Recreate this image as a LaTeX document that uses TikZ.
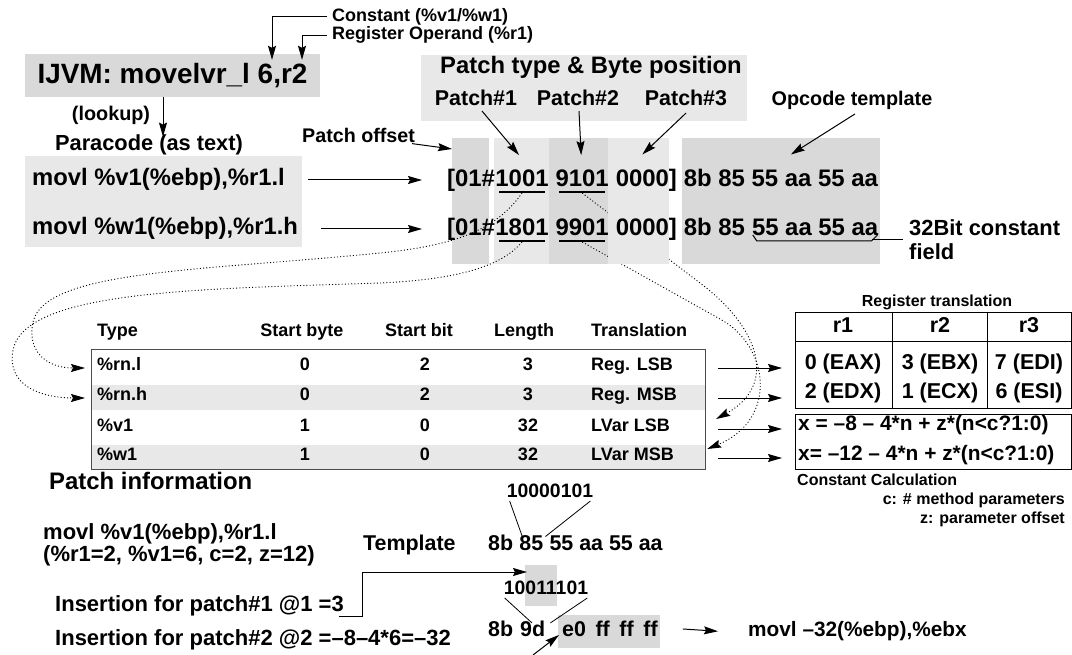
\documentclass[tikz,border=0pt]{standalone}
\usepackage{fontspec}
\setmainfont{Liberation Sans}
\usetikzlibrary{arrows.meta,calc}
\definecolor{shadeA}{HTML}{D9D9D9}
\definecolor{shadeB}{HTML}{E8E8E8}
\newcommand{\fsz}[1]{\fontsize{#1}{#1}\selectfont\bfseries}
\newcommand{\gapw}{6.6}
\tikzset{
  every node/.style={inner sep=0pt},
  arr/.style={line width=1pt,-{Stealth[length=14pt,width=8pt,inset=2pt]}},
  dotline/.style={line width=0.9pt,dash pattern=on 1pt off 2.2pt},
  darr/.style={dotline,-{Stealth[length=14pt,width=8pt,inset=2pt]}},
  uline/.style={line width=1.8pt},
  hexrow/.style={font=\fsz{23.9},anchor=base west},
  tcell/.style={font=\fsz{18}},
  rcell/.style={font=\fsz{21.5},anchor=mid},
  frame/.style={draw,line width=1pt,anchor=north west},
}
\begin{document}
\begin{tikzpicture}[x=1pt,y=-1pt]
\useasboundingbox (0,0) rectangle (1072,655);

% ---------- instruction and operand labels
\node[fill=shadeA,minimum width=295pt,minimum height=43pt,font=\fsz{27.9}] (ijvm) at (172.5,75.5) {IJVM: movelvr\_l 6,r2};
\node[font=\fsz{18},anchor=mid west] (cst) at (332,19) {Constant (\%v1/\%w1)};
\node[font=\fsz{18},anchor=mid west] (reg) at (332,37) {Register Operand (\%r1)};
\draw[arr] ($(cst.west)+(-5,0)$) -| ($(ijvm.north)+(99.5,6)$);
\draw[arr] ($(reg.west)+(-5,0)$) -| ($(ijvm.north)+(129.5,6)$);

% ---------- paracode
\node[font=\fsz{19.8}] (lookup) at (111,115) {(lookup)};
\node[font=\fsz{21.8}] (para) at (149,145) {Paracode (as text)};
\fill[shadeB] (25,156) rectangle (302,247);
\node[font=\fsz{23.8},anchor=base west] (p1) at (32,186) {movl \%v1(\%ebp),\%r1.l};
\node[font=\fsz{23.8},anchor=base west] (p2) at (32,235) {movl \%w1(\%ebp),\%r1.h};
\draw[arr] ($(ijvm.south)+(-9.5,0)$) -- ($(para.north)+(14,2)$);

% ---------- patch information table
\fill[shadeB] (91,385) rectangle (705,410);
\fill[shadeB] (91,445) rectangle (705,469);
\node[draw=black!70,line width=1.2pt,minimum width=614pt,minimum height=120pt,anchor=north west] (tbl) at (91,349) {};
\node[tcell,anchor=mid west] (hType) at (97,334) {Type};
\node[tcell,anchor=mid] (hSbyte) at (302,334) {Start byte};
\node[tcell,anchor=mid] (hSbit) at (419,334) {Start bit};
\node[tcell,anchor=mid] (hLen) at (524,334) {Length};
\node[tcell,anchor=mid west] (hTr) at (591,334) {Translation};
\foreach \i/\yy/\vty/\vsb/\vsbt/\vlen/\vtr in {1/368/{\%rn.l}/0/2/3/{Reg. LSB},2/398/{\%rn.h}/0/2/3/{Reg. MSB},3/429/{\%v1}/1/0/32/{LVar LSB},4/458/{\%w1}/1/0/32/{LVar MSB}}{
  \node[tcell,anchor=mid west] (ty\i) at (97,\yy) {\vty};
  \node[tcell,anchor=mid] (sb\i) at (305,\yy) {\vsb};
  \node[tcell,anchor=mid] (sbt\i) at (425,\yy) {\vsbt};
  \node[tcell,anchor=mid] (len\i) at (528,\yy) {\vlen};
  \node[tcell,anchor=mid west] (tr\i) at (591,\yy) {\vtr};
}
\node[font=\fsz{23.9},anchor=mid west] (pinfo) at (49,487) {Patch information};

% ---------- register translation and constant calculation
\node[font=\fsz{16},anchor=mid] (rtitle) at (937,304) {Register translation};
\node[frame,minimum width=276pt,minimum height=96pt] (regt) at (795,312) {};
\draw[line width=1pt] ($(regt.north west)+(0,30)$) -- ($(regt.north east)+(0,30)$);
\draw[line width=1pt] ($(regt.north west)+(97,0)$) -- ($(regt.south west)+(97,0)$);
\draw[line width=1pt] ($(regt.north west)+(192,0)$) -- ($(regt.south west)+(192,0)$);
\node[rcell] (rh1) at (843,330) {r1};
\node[rcell] (rh2) at (940,330) {r2};
\node[rcell] (rh3) at (1029,330) {r3};
\node[rcell] (ra1) at (843,367) {0 (EAX)};
\node[rcell] (ra2) at (940,367) {3 (EBX)};
\node[rcell] (ra3) at (1029,367) {7 (EDI)};
\node[rcell] (rb1) at (843,396) {2 (EDX)};
\node[rcell] (rb2) at (940,396) {1 (ECX)};
\node[rcell] (rb3) at (1029,396) {6 (ESI)};
\node[frame,minimum width=276pt,minimum height=55pt] (cbox) at (795,414) {};
\node[font=\fsz{20.9},anchor=mid west] (cf1) at (798,428) {x = –8 – 4*n + z*(n<c?1:0)};
\node[font=\fsz{20.9},anchor=mid west] (cf2) at (798,458) {x= –12 – 4*n + z*(n<c?1:0)};
\node[font=\fsz{16},anchor=mid west] (ccalc) at (797,483) {Constant Calculation};
\node[font=\fsz{16},anchor=mid east] (cpar) at (1065,502) {c: \# method parameters};
\node[font=\fsz{16},anchor=mid east] (zpar) at (1065,521) {z: parameter offset};
\foreach \i in {1,...,4}
  \draw[arr] ($(tbl.east |- ty\i.mid)+(12,0)$) -- ($(regt.west |- ty\i.mid)+(-13,0)$);

% ---------- patch descriptor and opcode template
\fill[shadeB] (421,55) rectangle (747,121);
\node[font=\fsz{23.8},anchor=mid] (hdr) at (591,71) {Patch type \& Byte position};
\node[font=\fsz{21.4},anchor=mid] (pt1) at (476,103) {Patch\#1};
\node[font=\fsz{21.4},anchor=mid] (pt2) at (578,103) {Patch\#2};
\node[font=\fsz{21.4},anchor=mid] (pt3) at (686,103) {Patch\#3};
\node[font=\fsz{19.8},anchor=mid] (opt) at (852,103) {Opcode template};
\node[font=\fsz{19.7},anchor=mid west] (poff) at (302,140) {Patch offset};
\coordinate (offtip) at (452,149);

\fill[shadeA] (452,138) rectangle (489,264);
\fill[shadeB] (494,138) rectangle (549,264);
\fill[shadeA] (549,138) rectangle (608,264);
\fill[shadeA] (682,138) rectangle (880,264);

\node[hexrow] (r1a) at (447,187) {[01\#};
\node[hexrow] (r1b) at (r1a.base east) {1001};
\node[hexrow] (r1c) at ($(r1b.base east)+(\gapw,0)$) {9101};
\node[hexrow] (r2a) at (447,236) {[01\#};
\node[hexrow] (r2b) at (r2a.base east) {1801};
\node[hexrow] (r2c) at ($(r2b.base east)+(\gapw,0)$) {9901};
\foreach \n in {r1b,r1c,r2b,r2c}
  \draw[uline] ($(\n.base west)+(4,5)$) -- ($(\n.base east)+(-4,5)$);

% patch fields pointing into the table
\draw[darr] ($(r1b.base)+(0,6)$) .. controls (495,232) and (450,246) .. (380,253)
  .. controls (200,271) and (45,270) .. (33,322)
  .. controls (27,350) and (45,368) .. ($(ty1.mid west)+(-12,0)$);
\draw[darr] ($(r2b.base)+(0,6)$) .. controls (505,262) and (470,279) .. (380,283)
  .. controls (200,289) and (25,290) .. (13,350)
  .. controls (6,388) and (45,398) .. ($(ty2.mid west)+(-12,0)$);
\draw[darr] ($(r1c.base)+(0,6)$) -- (700,283) .. controls (760,328) and (778,385) .. ($(tbl.east |- tr3.mid)+(10,-10)$);
\draw[darr] ($(r2c.base)+(0,6)$) -- (720,319) .. controls (770,346) and (778,420) .. ($(tbl.east |- tr4.mid)+(1,-9)$);

\fill[shadeB] (608,138) rectangle (669,264);
\node[hexrow] (r1d) at ($(r1c.base east)+(\gapw,0)$) {0000]};
\node[hexrow] (r1e) at ($(r1d.base east)+(\gapw,0)$) {8b 85 55 aa 55 aa};
\node[hexrow] (r2d) at ($(r2c.base east)+(\gapw,0)$) {0000]};
\node[hexrow] (r2e) at ($(r2d.base east)+(\gapw,0)$) {8b 85};
\node[hexrow] (r2f) at ($(r2e.base east)+(\gapw,0)$) {55 aa 55 aa};

% constant field marker
\node[font=\fsz{21.9},anchor=base west] (fld1) at (909,236) {32Bit constant};
\node[font=\fsz{21.9},anchor=base west] (fld2) at (909,260) {field};
\draw[line width=1pt] ($(r2f.base west)+(1,-1)$) -- ($(r2f.base west)+(5,5)$) -- ($(r2f.base east)+(-7,5)$) -- ($(r2f.base east)+(-1,-1)$);
\draw[line width=1pt] ($(r2f.base east)+(-6,4)$) -- ($(fld1.base west)+(-6,4)$);

% label arrows
\draw[arr] ($(p1.base east)+(23,-6)$) -- ($(r1a.base west)+(-25,-7)$);
\draw[arr] ($(p2.base east)+(23,-6)$) -- ($(r2a.base west)+(-25,-7)$);
\draw[arr] ($(poff.base east)+(-3,1)$) -- (offtip);
\draw[arr] ($(pt1.south)+(6,5)$) -- ($(r1b.north)+(-3,-15)$);
\draw[arr] ($(pt2.south)+(1,5)$) -- ($(r1c.north)+(-1,-15)$);
\draw[arr] ($(pt3.south)+(0,7)$) -- ($(r1d.north)+(-4,-15)$);
\draw[arr] ($(opt.south)+(3,4)$) -- ($(r1e.north)+(10,-15)$);

% ---------- worked example
\node[font=\fsz{22},anchor=mid west] (ex1) at (43,537) {movl \%v1(\%ebp),\%r1.l};
\node[font=\fsz{22},anchor=mid west] (ex2) at (43,559) {(\%r1=2, \%v1=6, c=2, z=12)};
\node[font=\fsz{22},anchor=mid west] (ins1) at (55,609) {Insertion for patch\#1 @1 =3};
\node[font=\fsz{22},anchor=mid west] (ins2) at (55,643) {Insertion for patch\#2 @2 =–8–4*6=–32};

\node[font=\fsz{21.4},anchor=mid west] (tmpl) at (363,548) {Template};
\node[font=\fsz{21.4},anchor=mid west] (t8b) at (488,548) {8b};
\node[font=\fsz{21.4},anchor=mid west] (t85) at ($(t8b.mid east)+(5.9,0)$) {85};
\node[font=\fsz{21.4},anchor=mid west] (trest) at ($(t85.mid east)+(5.9,0)$) {55 aa 55 aa};
\node[font=\fsz{19.4},anchor=mid] (bits1) at (550,495) {10000101};
\draw[line width=0.8pt] ($(bits1.south west)+(3,3)$) -- ($(t85.north west)+(3,1)$);
\draw[line width=0.8pt] ($(bits1.south east)+(-3,3)$) -- ($(t85.north east)+(2,1)$);

\fill[shadeA] (525,565) rectangle (557,606);
\node[font=\fsz{19.4},anchor=mid] (bits2) at (546,592) {10011101};
\fill[shadeA] (558,615) rectangle (660,648);
\node[font=\fsz{21.4},anchor=mid west] (b8b) at (488,634) {8b};
\node[font=\fsz{21.4},anchor=mid west] (b9d) at (520,634) {9d};
\node[font=\fsz{21.4},anchor=mid west] (bff) at (562,634) {e0\hspace{.45em}ff\hspace{.45em}ff\hspace{.45em}ff};
\draw[line width=0.8pt] ($(bits2.south west)+(1,3)$) -- ($(b9d.north west)+(12,2)$);
\draw[line width=0.8pt] ($(bits2.south east)+(-1,3)$) -- ($(b9d.north east)+(5,2)$);
\node[font=\fsz{20.8},anchor=mid west] (res) at (748,634) {movl –32(\%ebp),\%ebx};

\coordinate (tmpltip) at (527,572);
\coordinate (insbot) at (533,655);
\draw[arr] ($(ins1.base east)+(-5,5)$) -| (362,572) -- (tmpltip);
\draw[arr] (insbot) -- ($(bff.west)+(-3,6)$);
\draw[arr] ($(bff.east)+(25,0)$) -- ($(res.west)+(-30,0)$);
\end{tikzpicture}
\end{document}
